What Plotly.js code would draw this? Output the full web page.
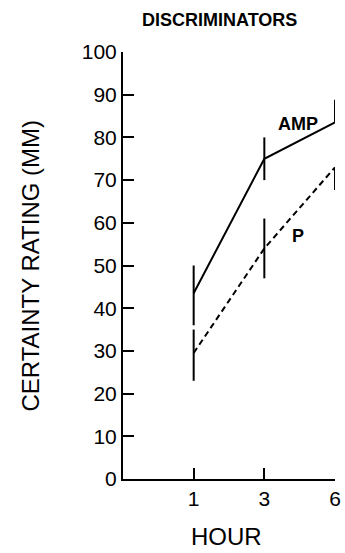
<!DOCTYPE html>
<html>
<head>
<meta charset="utf-8">
<script src="https://cdn.plot.ly/plotly-3.0.1.min.js"></script>
<style>
html,body{margin:0;padding:0;background:#fff;}
#chart{width:345px;height:553px;}
</style>
</head>
<body>
<div id="chart"></div>
<script>
// Data
var hours = ['1', '3', '6'];
var ampMean = [43.5, 75, 83.5];
var ampErrPlus = [6.5, 5, 5.3];
var ampErrMinus = [7.5, 5, 0];
var pMean = [29.5, 54, 73];
var pErrPlus = [5.5, 7, 0];
var pErrMinus = [6.5, 7, 5.3];
var yTicks = [0, 10, 20, 30, 40, 50, 60, 70, 80, 90, 100];

var FONT = 'Liberation Sans, Arial, Helvetica, sans-serif';

var traces = [
  {
    x: hours, y: ampMean, type: 'scatter', mode: 'lines', name: 'AMP',
    line: {color: '#000', width: 2},
    error_y: {type: 'data', symmetric: false, array: ampErrPlus, arrayminus: ampErrMinus,
              color: '#000', thickness: 2, width: 0},
    hoverinfo: 'x+y'
  },
  {
    x: hours, y: pMean, type: 'scatter', mode: 'lines', name: 'P',
    line: {color: '#000', width: 2, dash: '6px,4px'},
    error_y: {type: 'data', symmetric: false, array: pErrPlus, arrayminus: pErrMinus,
              color: '#000', thickness: 2, width: 0},
    hoverinfo: 'x+y'
  }
];

var layout = {
  width: 345, height: 553,
  margin: {l: 123, r: 10, t: 52, b: 74, pad: 0},
  paper_bgcolor: '#fff', plot_bgcolor: '#fff',
  showlegend: false,
  font: {family: FONT, color: '#000', size: 21},
  xaxis: {
    type: 'category', categoryorder: 'array', categoryarray: hours,
    range: [-1, 2], showgrid: false, zeroline: false,
    showline: true, linecolor: '#000', linewidth: 2,
    ticks: 'inside', ticklen: 11, tickwidth: 2, tickcolor: '#000',
    tickfont: {family: FONT, size: 21, color: '#000'},
    fixedrange: true
  },
  yaxis: {
    range: [0, 100], tickvals: yTicks, showgrid: false, zeroline: false,
    showline: true, linecolor: '#000', linewidth: 2,
    ticks: 'inside', ticklen: 11, tickwidth: 2, tickcolor: '#000',
    tickfont: {family: FONT, size: 21, color: '#000'},
    fixedrange: true
  },
  annotations: [
    {text: 'DISCRIMINATORS', xref: 'paper', yref: 'paper', x: 0.455, y: 1, yshift: 32,
     showarrow: false, xanchor: 'center', yanchor: 'middle',
     font: {family: FONT, size: 18, color: '#000', weight: 'bold'}},
    {text: 'CERTAINTY RATING (MM)', xref: 'paper', yref: 'paper', x: 0, y: 0.5, xshift: -93,
     textangle: -90, showarrow: false, xanchor: 'center', yanchor: 'middle',
     font: {family: FONT, size: 24, color: '#000'}},
    {text: 'HOUR', xref: 'paper', yref: 'paper', x: 0.49, y: 0, yshift: -57,
     showarrow: false, xanchor: 'center', yanchor: 'middle',
     font: {family: FONT, size: 24, color: '#000'}},
    {text: 'AMP', xref: 'x', yref: 'y', x: 1.48, y: 83.1,
     showarrow: false, xanchor: 'center', yanchor: 'middle',
     font: {family: FONT, size: 18, color: '#000', weight: 'bold'}},
    {text: 'P', xref: 'x', yref: 'y', x: 1.48, y: 57,
     showarrow: false, xanchor: 'center', yanchor: 'middle',
     font: {family: FONT, size: 18, color: '#000', weight: 'bold'}}
  ]
};

Plotly.newPlot('chart', traces, layout, {displayModeBar: false, staticPlot: true});
</script>
</body>
</html>
